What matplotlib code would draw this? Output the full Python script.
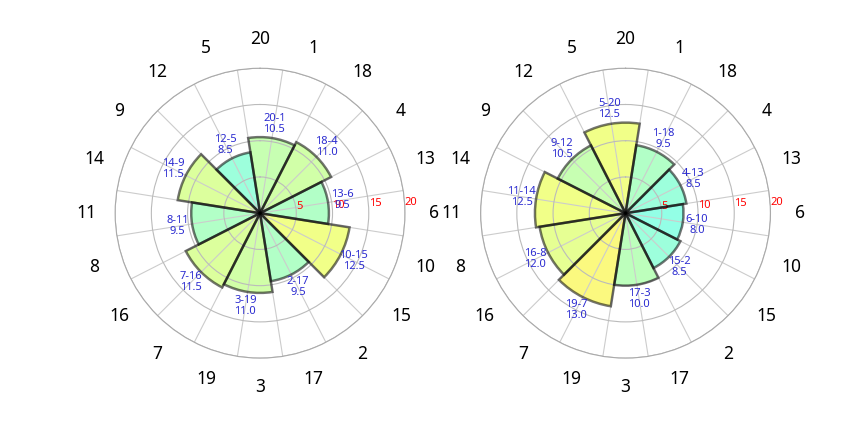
import numpy as np
import matplotlib.pyplot as plt
from matplotlib import cm

# dartboard sector order, clockwise from the top
sectors = [20, 1, 18, 4, 13, 6, 10, 15, 2, 17, 3, 19, 7, 16, 8, 11, 14, 9, 12, 5]

# left board: pairs starting on 20
left_pairs = ['20-1', '18-4', '13-6', '10-15', '2-17', '3-19', '7-16', '8-11', '14-9', '12-5']
left_values = [10.5, 11.0, 9.5, 12.5, 9.5, 11.0, 11.5, 9.5, 11.5, 8.5]

# right board: pairs starting on 5
right_pairs = ['5-20', '1-18', '4-13', '6-10', '15-2', '17-3', '19-7', '16-8', '11-14', '9-12']
right_values = [12.5, 9.5, 8.5, 8.0, 8.5, 10.0, 13.0, 12.0, 12.5, 10.5]

rings = [5, 10, 15, 20]

plt.rcParams['font.family'] = ['Noto Sans', 'DejaVu Sans']

fig = plt.figure(figsize=(8.64, 4.32), dpi=100)

step = 2 * np.pi / len(sectors)


def draw_board(ax, pairs, values):
    ax.set_theta_zero_location('N')
    ax.set_theta_direction(-1)

    # angle of each pair = boundary between its two sectors
    theta = []
    for p in pairs:
        first = int(p.split('-')[0])
        i = sectors.index(first)
        theta.append((i + 0.5) * step)
    theta = np.array(theta)

    colors = cm.jet(np.array(values) / 20.0)
    # fill below the grid, outline on top of it
    ax.bar(theta, values, width=2 * step, bottom=0, color=colors,
           linewidth=0, alpha=0.5, zorder=1)
    ax.bar(theta, values, width=2 * step, bottom=0, facecolor='none',
           edgecolor=(0, 0, 0, 0.55), linewidth=1.8, zorder=3)

    for t, v, p in zip(theta, values, pairs):
        ax.text(t, v + 2, '%s\n%.1f' % (p, v), ha='center', va='center',
                fontsize=8, color='#2b2bd0', linespacing=1.0, zorder=4)

    ax.set_ylim(0, 20)
    ax.set_yticks(rings)
    ax.set_yticklabels([str(r) for r in rings], color='red', fontsize=8)
    ax.set_rlabel_position(88)

    ax.set_xticks(np.arange(len(sectors)) * step)
    ax.set_xticklabels([str(s) for s in sectors], fontsize=12.5)
    ax.set_xticks(np.arange(len(sectors)) * step + step / 2, minor=True)
    ax.tick_params(axis='x', which='major', pad=14, length=0)
    ax.tick_params(axis='x', which='minor', length=0)
    ax.xaxis.grid(False, which='major')
    ax.xaxis.grid(True, which='minor', color='#cccccc', linewidth=0.8)
    ax.yaxis.grid(True, color='#bbbbbb', linewidth=0.8)
    ax.spines['polar'].set_color('#aaaaaa')


ax1 = fig.add_axes([0.133, 0.171, 0.336, 0.671], projection='polar')
draw_board(ax1, left_pairs, left_values)

ax2 = fig.add_axes([0.556, 0.171, 0.336, 0.671], projection='polar')
draw_board(ax2, right_pairs, right_values)

plt.savefig('out.png', dpi=100)
